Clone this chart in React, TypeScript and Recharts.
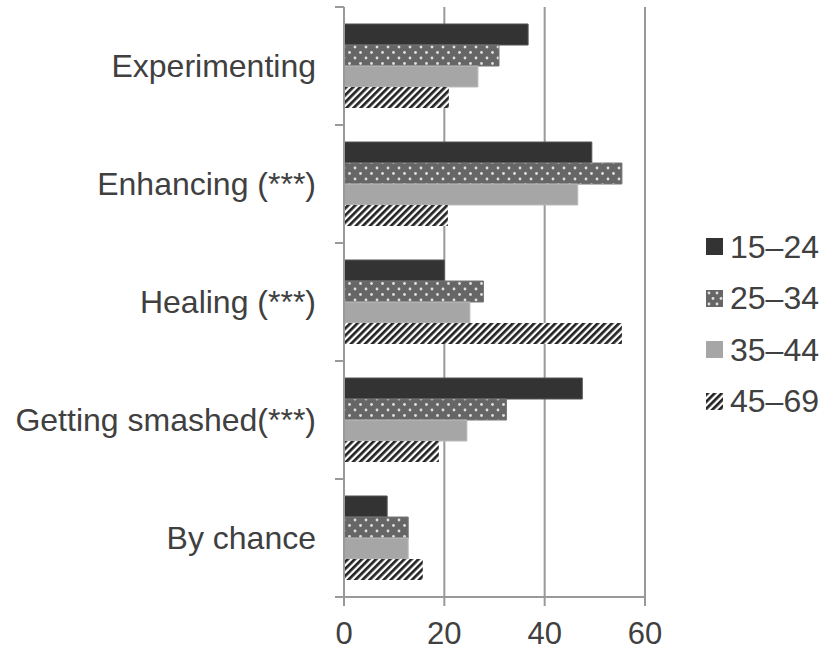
import React from "react";
import { BarChart, Bar, XAxis, YAxis, CartesianGrid } from "recharts";

const CATEGORIES = ["Experimenting", "Enhancing (***)", "Healing (***)", "Getting smashed(***)", "By chance"];
const AGE_15_24 = [36.7, 49.4, 20.0, 47.5, 8.6];
const AGE_25_34 = [30.9, 55.4, 27.8, 32.4, 12.8];
const AGE_35_44 = [26.7, 46.6, 25.1, 24.5, 12.8];
const AGE_45_69 = [20.9, 20.7, 55.4, 18.9, 15.7];
const X_TICKS = [0, 20, 40, 60];

const SERIES = [
  { key: "a", label: "15–24", fill: "#333333", stroke: "#555555" },
  { key: "b", label: "25–34", fill: "url(#dots)", stroke: "#777777" },
  { key: "c", label: "35–44", fill: "#a6a6a6", stroke: "#bbbbbb" },
  { key: "d", label: "45–69", fill: "url(#stripes)", stroke: "none" },
];

const data = CATEGORIES.map((name, i) => ({
  name,
  a: AGE_15_24[i],
  b: AGE_25_34[i],
  c: AGE_35_44[i],
  d: AGE_45_69[i],
}));

const W = 834;
const H = 651;
const MARGIN = { top: 7, right: 189, bottom: 0, left: 0 };
const Y_WIDTH = 344;
const X_HEIGHT = 54;
const AXIS_X = MARGIN.left + Y_WIDTH;
const BAND = (H - MARGIN.top - MARGIN.bottom - X_HEIGHT) / CATEGORIES.length;
const TEXT = "#404040";
const LINE = "#999999";
const FONT = "'Liberation Sans', Arial, sans-serif";

// category ticks sit between the bands, like Excel does
const CategoryTick = (props: any) => {
  const { y, payload, index } = props;
  const top = y - BAND / 2;
  const bottom = y + BAND / 2;
  return (
    <g>
      <line x1={AXIS_X - 9} x2={AXIS_X} y1={top} y2={top} stroke={LINE} strokeWidth={2} />
      {index === CATEGORIES.length - 1 && (
        <line x1={AXIS_X - 9} x2={AXIS_X} y1={bottom} y2={bottom} stroke={LINE} strokeWidth={2} />
      )}
      <text x={AXIS_X - 28} y={y} dy="0.355em" textAnchor="end" fill={TEXT} fontSize={32} fontFamily={FONT}>
        {payload.value}
      </text>
    </g>
  );
};

const ValueTick = (props: any) => {
  const { x, payload } = props;
  return (
    <text x={x} y={644} textAnchor="middle" fill={TEXT} fontSize={31} fontFamily={FONT}>
      {payload.value}
    </text>
  );
};

const Swatch = ({ kind }: { kind: string }) => (
  <svg width={17} height={17} style={{ display: "block" }}>
    {kind === "a" && <rect width={17} height={17} fill="#333333" />}
    {kind === "b" && (
      <g>
        <rect width={17} height={17} fill="#666666" />
        {[[3, 3], [11, 3], [7, 8.5], [15, 8.5], [3, 14], [11, 14]].map(([cx, cy], i) => (
          <circle key={i} cx={cx} cy={cy} r={1.4} fill="#e0e0e0" />
        ))}
      </g>
    )}
    {kind === "c" && <rect width={17} height={17} fill="#a6a6a6" />}
    {kind === "d" && <rect width={17} height={17} fill="url(#stripes)" />}
  </svg>
);

export default function App() {
  return (
    <div style={{ position: "absolute", left: 0, top: 0, width: W, height: H, background: "#fff", fontFamily: FONT }}>
      <BarChart
        width={W}
        height={H}
        data={data}
        layout="vertical"
        margin={MARGIN}
        barSize={21}
        barGap={0}
      >
        <defs>
          <pattern id="dots" width={11} height={11} patternUnits="userSpaceOnUse">
            <rect width={11} height={11} fill="#666666" />
            <circle cx={3} cy={3} r={1.4} fill="#e0e0e0" />
            <circle cx={8.5} cy={8.5} r={1.4} fill="#e0e0e0" />
          </pattern>
          <pattern id="stripes" width={5} height={5} patternUnits="userSpaceOnUse" patternTransform="rotate(45)">
            <rect width={5} height={5} fill="#ffffff" />
            <rect width={2.7} height={5} fill="#222222" />
          </pattern>
        </defs>
        <CartesianGrid horizontal={false} stroke={LINE} strokeWidth={2} />
        <XAxis
          type="number"
          domain={[0, 60]}
          ticks={X_TICKS}
          height={X_HEIGHT}
          tickSize={9}
          axisLine={{ stroke: LINE, strokeWidth: 2 }}
          tickLine={{ stroke: LINE, strokeWidth: 2 }}
          tick={<ValueTick />}
        />
        <YAxis
          type="category"
          dataKey="name"
          width={Y_WIDTH}
          axisLine={{ stroke: LINE, strokeWidth: 2 }}
          tickLine={false}
          tick={<CategoryTick />}
          interval={0}
        />
        {SERIES.map((s) => (
          <Bar key={s.key} dataKey={s.key} fill={s.fill} stroke={s.stroke} strokeWidth={1} isAnimationActive={false} />
        ))}
      </BarChart>
      <div style={{ position: "absolute", left: 706, top: 221, color: TEXT, fontSize: 32 }}>
        {SERIES.map((s) => (
          <div key={s.key} style={{ display: "flex", alignItems: "center", height: 51.5 }}>
            <Swatch kind={s.key} />
            <span style={{ marginLeft: 7, lineHeight: 1 }}>{s.label}</span>
          </div>
        ))}
      </div>
    </div>
  );
}
